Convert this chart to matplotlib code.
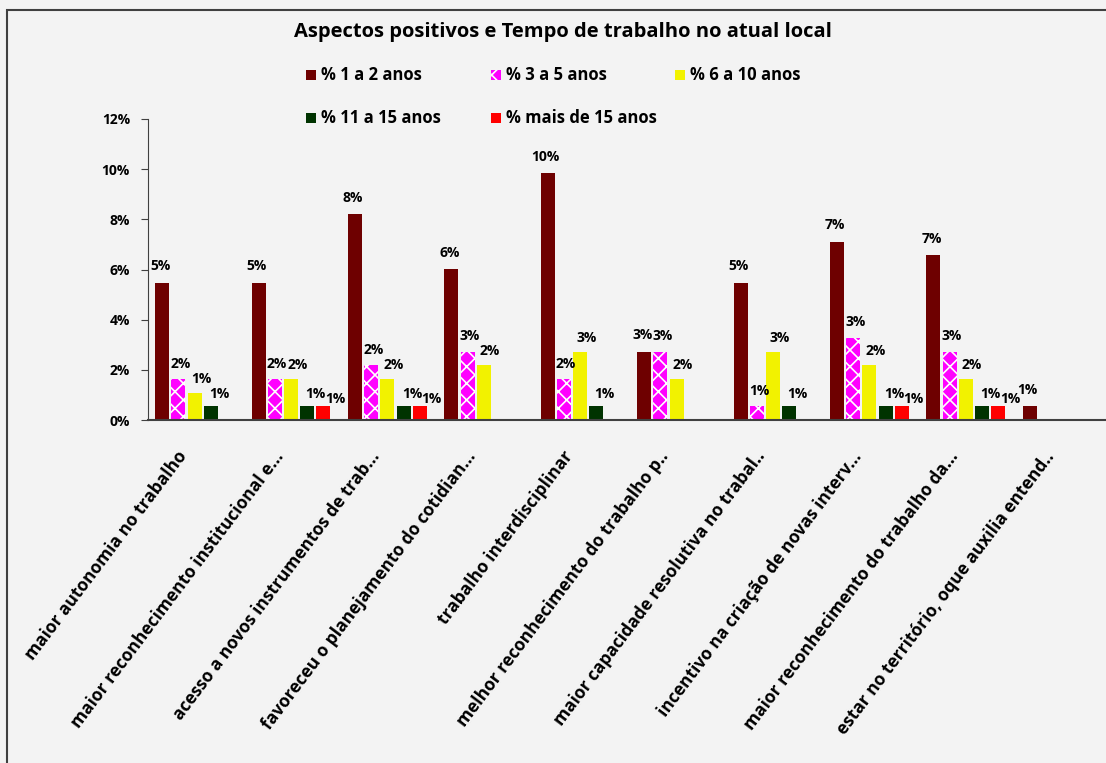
import matplotlib.pyplot as plt
import matplotlib.patches as mpatches
from matplotlib.transforms import ScaledTranslation
import numpy as np

plt.rcParams['font.family'] = ['Open Sans', 'DejaVu Sans']
plt.rcParams['font.weight'] = 'bold'
plt.rcParams['hatch.linewidth'] = 1.2

categories = [
    'maior autonomia no trabalho',
    'maior reconhecimento institucional e...',
    'acesso a novos instrumentos de trab...',
    'favoreceu o planejamento do cotidian...',
    'trabalho interdisciplinar',
    'melhor reconhecimento do trabalho p..',
    'maior capacidade resolutiva no trabal..',
    'incentivo na criação de novas interv...',
    'maior reconhecimento do trabalho da...',
    'estar no território, oque auxilia entend..',
]

series_names = ['% 1 a 2 anos', '% 3 a 5 anos', '% 6 a 10 anos',
                '% 11 a 15 anos', '% mais de 15 anos']

anos_1_2 = [5.46, 5.46, 8.20, 6.01, 9.84, 2.73, 5.46, 7.10, 6.56, 0.55]
anos_3_5 = [1.64, 1.64, 2.19, 2.73, 1.64, 2.73, 0.55, 3.28, 2.73, 0]
anos_6_10 = [1.09, 1.64, 1.64, 2.19, 2.73, 1.64, 2.73, 2.19, 1.64, 0]
anos_11_15 = [0.55, 0.55, 0.55, 0, 0.55, 0, 0.55, 0.55, 0.55, 0]
anos_mais_15 = [0, 0.55, 0.55, 0, 0, 0, 0, 0.55, 0.55, 0]

series = [anos_1_2, anos_3_5, anos_6_10, anos_11_15, anos_mais_15]
colors = ['#6e0000', '#ff00ff', '#f2f200', '#003300', '#ff0000']
hatches = [None, 'xx', None, None, None]
# label offsets in points (dx, dy), roughly like the original
lbl_off = [(-1.5, 12), (1.5, 11), (4.5, 10), (6, 9), (8.5, 5)]

W, H = 1106, 763
fig = plt.figure(figsize=(W / 100, H / 100), dpi=100)
fig.patch.set_facecolor('#f3f3f3')
ax = fig.add_axes([148 / W, 1 - 420 / H, (1112 - 148) / W, (420 - 119) / H])
ax.set_facecolor('#f3f3f3')

# outer frame of the chart
fig.patches.append(mpatches.Rectangle((7 / W, -0.1), 1.2, 1.1 - 10 / H,
                                      transform=fig.transFigure, fill=False,
                                      edgecolor='#404040', linewidth=1.5))

x = np.arange(len(categories))
step = 0.168
width = 0.145
for i, vals in enumerate(series):
    pos = x + (i - 2) * step - 0.016
    ax.bar(pos, vals, width, color=colors[i], edgecolor='white', hatch=hatches[i],
           linewidth=0, label=series_names[i])
    for p, v in zip(pos, vals):
        if v > 0:
            ax.annotate(f'{v:.0f}%', (p, v), xytext=lbl_off[i], textcoords='offset points',
                        ha='center', va='center', fontsize=10, fontweight='bold')

ax.set_xlim(-0.5, len(categories) - 0.5)
ax.set_ylim(0, 12)
ax.set_yticks(range(0, 13, 2))
ax.set_yticklabels([f'{t}%' for t in range(0, 13, 2)], fontsize=10, fontweight='bold')
ax.set_xticks(x)
ax.set_xticklabels([])
ax.tick_params(axis='x', length=0)
ax.tick_params(axis='y', direction='out', length=5, color='#404040', pad=8)

# rotated category labels, right end just below each group
lab_tr = ax.get_xaxis_transform() + ScaledTranslation(-9 / 72, -24 / 72, fig.dpi_scale_trans)
for xi, cat in zip(x, categories):
    ax.text(xi, 0, cat, transform=lab_tr, rotation=53, rotation_mode='anchor',
            ha='right', va='center', fontsize=12.5, fontweight='bold')

for s in ['top', 'right']:
    ax.spines[s].set_visible(False)
ax.spines['left'].set_color('#404040')
ax.spines['bottom'].set_color('#404040')
ax.spines['bottom'].set_linewidth(1.5)

fig.text(0.509, 1 - 32 / H, 'Aspectos positivos e Tempo de trabalho no atual local',
         ha='center', va='center', fontsize=14.5, fontweight='bold')

# legend laid out as a 3-column grid like the original
for i, name in enumerate(series_names):
    row, col = divmod(i, 3)
    lx = 306 + col * 184.5
    ly = 75 + row * 43
    fig.patches.append(mpatches.Rectangle((lx / W, 1 - (ly + 5) / H), 10 / W, 10 / H,
                                          transform=fig.transFigure, facecolor=colors[i],
                                          edgecolor='white', hatch=hatches[i], linewidth=0))
    fig.text((lx + 15) / W, 1 - ly / H, name, ha='left', va='center',
             fontsize=12, fontweight='bold')

fig.savefig('out.png', dpi=100, facecolor=fig.get_facecolor())
